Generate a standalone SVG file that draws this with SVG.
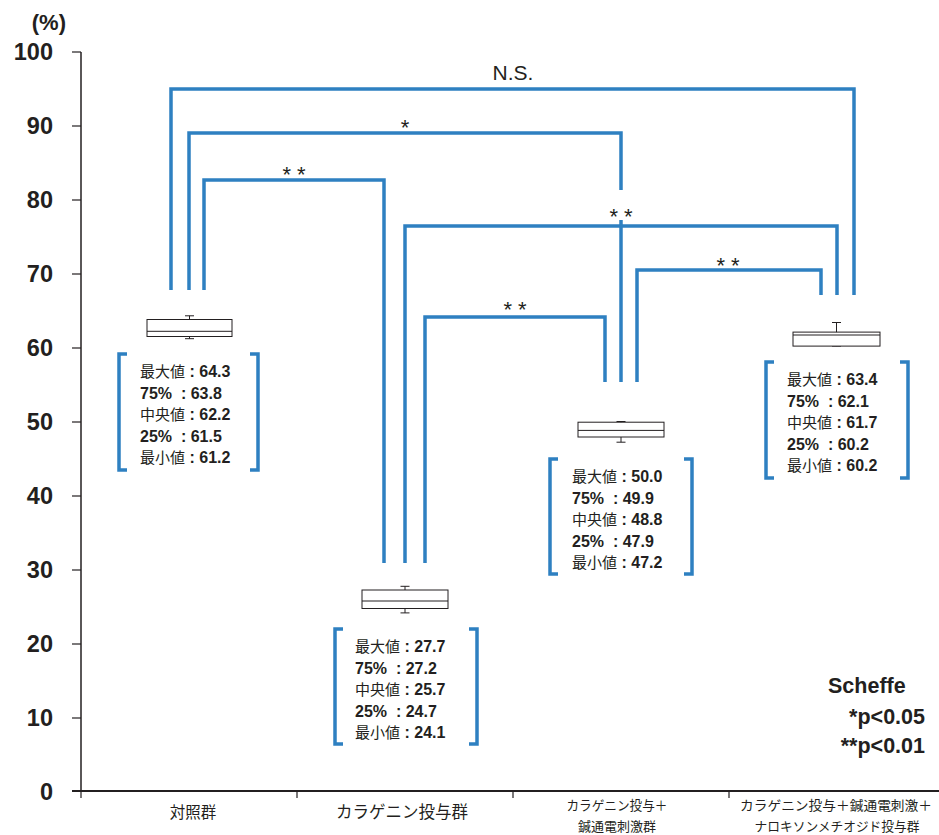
<svg xmlns="http://www.w3.org/2000/svg" width="939" height="835" viewBox="0 0 939 835">
<style>
.ax{stroke:#231f20;stroke-width:1.5;fill:none}
.tk{stroke:#231f20;stroke-width:1.2}
.yl{font-family:"Liberation Sans",Arial,sans-serif;font-weight:bold;font-size:23.5px;fill:#231f20;text-anchor:end}
.sig{stroke:#2e80c1;stroke-width:3.5;fill:none;stroke-linejoin:miter;stroke-linecap:butt}
.brk{stroke:#2e80c1;stroke-width:3.5;fill:none}
.box{stroke:#231f20;stroke-width:1;fill:#fff}
.wh{stroke:#231f20;stroke-width:1;fill:none}
.st{font-family:"Liberation Sans","Noto Sans CJK JP",sans-serif;font-weight:bold;font-size:16px;fill:#231f20}
.cj{font-family:"Noto Sans CJK JP",sans-serif;font-weight:normal;font-size:15px}
.ast{font-family:"Liberation Sans",sans-serif;font-size:22px;fill:#231f20;text-anchor:middle}
.cat{font-family:"Noto Sans CJK JP",sans-serif;fill:#231f20;text-anchor:middle}
.lg{font-family:"Liberation Sans",Arial,sans-serif;font-weight:bold;font-size:21.5px;fill:#231f20}
</style>

<g id="axes">
<text x="66" y="30" class="yl" style="font-size:22px">(%)</text>
<line class="ax" x1="81" y1="52" x2="81" y2="791"/>
<line class="ax" x1="72" y1="791" x2="939" y2="791" style="stroke-width:2"/>
<g class="tk">
<line x1="72" y1="52" x2="81" y2="52"/>
<line x1="72" y1="126" x2="81" y2="126"/>
<line x1="72" y1="200" x2="81" y2="200"/>
<line x1="72" y1="274" x2="81" y2="274"/>
<line x1="72" y1="348" x2="81" y2="348"/>
<line x1="72" y1="422" x2="81" y2="422"/>
<line x1="72" y1="496" x2="81" y2="496"/>
<line x1="72" y1="570" x2="81" y2="570"/>
<line x1="72" y1="644" x2="81" y2="644"/>
<line x1="72" y1="718" x2="81" y2="718"/>
<line x1="81" y1="791" x2="81" y2="798"/>
<line x1="297" y1="791" x2="297" y2="798"/>
<line x1="513" y1="791" x2="513" y2="798"/>
<line x1="729" y1="791" x2="729" y2="798"/>
</g>
<text class="yl" x="53" y="60">100</text>
<text class="yl" x="53" y="134">90</text>
<text class="yl" x="53" y="208">80</text>
<text class="yl" x="53" y="282">70</text>
<text class="yl" x="53" y="356">60</text>
<text class="yl" x="53" y="430">50</text>
<text class="yl" x="53" y="504">40</text>
<text class="yl" x="53" y="578">30</text>
<text class="yl" x="53" y="652">20</text>
<text class="yl" x="53" y="726">10</text>
<text class="yl" x="53" y="800">0</text>
</g>

<g id="connectors">
<polyline class="sig" points="171,290 171,89 854,89 854,295"/>
<polyline class="sig" points="189,290 189,133 621,133 621,190"/>
<polyline class="sig" points="204,290 204,180 384,180 384,563"/>
<polyline class="sig" points="405,563 405,226 837,226 837,295"/>
<line class="sig" x1="621" y1="220" x2="621" y2="382"/>
<polyline class="sig" points="425,563 425,317 605,317 605,382"/>
<polyline class="sig" points="637,382 637,270 821,270 821,295"/>
<text class="ast" x="513" y="80" style="font-size:21px">N.S.</text>
<text class="ast" x="405" y="135">*</text>
<text class="ast" x="294" y="182">* *</text>
<text class="ast" x="621" y="224">* *</text>
<text class="ast" x="515" y="317">* *</text>
<text class="ast" x="728" y="273">* *</text>
</g>

<g id="group1">
<line class="wh" x1="189.5" y1="315.8" x2="189.5" y2="338.7"/>
<line class="wh" x1="185" y1="315.8" x2="194" y2="315.8"/>
<line class="wh" x1="185" y1="338.7" x2="194" y2="338.7"/>
<rect class="box" x="147" y="319.5" width="85" height="17"/>
<line class="wh" x1="147" y1="331.3" x2="232" y2="331.3"/>
<path class="brk" d="M127,354 H119 V470 H127 M250,354 H258 V470 H250"/>
<text class="st" xml:space="preserve" x="140" y="377"><tspan class="cj">最大値</tspan> : 64.3</text>
<text class="st" xml:space="preserve" x="140" y="398.5">75%  : 63.8</text>
<text class="st" xml:space="preserve" x="140" y="420"><tspan class="cj">中央値</tspan> : 62.2</text>
<text class="st" xml:space="preserve" x="140" y="441.5">25%  : 61.5</text>
<text class="st" xml:space="preserve" x="140" y="463"><tspan class="cj">最小値</tspan> : 61.2</text>
<text class="cat" x="193" y="818" style="font-size:15.5px">対照群</text>
</g>

<g id="group2">
<line class="wh" x1="405" y1="586.3" x2="405" y2="612.9"/>
<line class="wh" x1="400.5" y1="586.3" x2="409.5" y2="586.3"/>
<line class="wh" x1="400.5" y1="612.9" x2="409.5" y2="612.9"/>
<rect class="box" x="362" y="590" width="86" height="18.5"/>
<line class="wh" x1="362" y1="601" x2="448" y2="601"/>
<path class="brk" d="M343,629 H335 V744 H343 M469,629 H477 V744 H469"/>
<text class="st" xml:space="preserve" x="355" y="652"><tspan class="cj">最大値</tspan> : 27.7</text>
<text class="st" xml:space="preserve" x="355" y="673.5">75%  : 27.2</text>
<text class="st" xml:space="preserve" x="355" y="695"><tspan class="cj">中央値</tspan> : 25.7</text>
<text class="st" xml:space="preserve" x="355" y="716.5">25%  : 24.7</text>
<text class="st" xml:space="preserve" x="355" y="738"><tspan class="cj">最小値</tspan> : 24.1</text>
<text class="cat" x="402" y="818" style="font-size:16.5px">カラゲニン投与群</text>
</g>

<g id="group3">
<line class="wh" x1="621" y1="421.5" x2="621" y2="442.2"/>
<line class="wh" x1="616.5" y1="421.5" x2="625.5" y2="421.5"/>
<line class="wh" x1="616.5" y1="442.2" x2="625.5" y2="442.2"/>
<rect class="box" x="578" y="422.2" width="86" height="14.8"/>
<line class="wh" x1="578" y1="430.4" x2="664" y2="430.4"/>
<path class="brk" d="M558,459 H550 V574 H558 M684,459 H692 V574 H684"/>
<text class="st" xml:space="preserve" x="572" y="482"><tspan class="cj">最大値</tspan> : 50.0</text>
<text class="st" xml:space="preserve" x="572" y="503.5">75%  : 49.9</text>
<text class="st" xml:space="preserve" x="572" y="525"><tspan class="cj">中央値</tspan> : 48.8</text>
<text class="st" xml:space="preserve" x="572" y="546.5">25%  : 47.9</text>
<text class="st" xml:space="preserve" x="572" y="568"><tspan class="cj">最小値</tspan> : 47.2</text>
<text class="cat" x="617" y="810" style="font-size:13px" textLength="101" lengthAdjust="spacingAndGlyphs">カラゲニン投与＋</text>
<text class="cat" x="617" y="831" style="font-size:13px" textLength="78" lengthAdjust="spacingAndGlyphs">鍼通電刺激群</text>
</g>

<g id="group4">
<line class="wh" x1="836.5" y1="322.5" x2="836.5" y2="346.1"/>
<line class="wh" x1="832" y1="322.5" x2="841" y2="322.5"/>
<line class="wh" x1="832" y1="346.1" x2="841" y2="346.1"/>
<rect class="box" x="793" y="332.1" width="87" height="14"/>
<line class="wh" x1="793" y1="335" x2="880" y2="335"/>
<path class="brk" d="M774,362 H766 V478 H774 M900,362 H908 V478 H900"/>
<text class="st" xml:space="preserve" x="787" y="385"><tspan class="cj">最大値</tspan> : 63.4</text>
<text class="st" xml:space="preserve" x="787" y="406.5">75%  : 62.1</text>
<text class="st" xml:space="preserve" x="787" y="428"><tspan class="cj">中央値</tspan> : 61.7</text>
<text class="st" xml:space="preserve" x="787" y="449.5">25%  : 60.2</text>
<text class="st" xml:space="preserve" x="787" y="471"><tspan class="cj">最小値</tspan> : 60.2</text>
<text class="cat" x="836" y="810" style="font-size:13px" textLength="192" lengthAdjust="spacingAndGlyphs">カラゲニン投与＋鍼通電刺激＋</text>
<text class="cat" x="837" y="831" style="font-size:13px" textLength="165" lengthAdjust="spacingAndGlyphs">ナロキソンメチオジド投与群</text>
</g>

<g id="legend">
<text class="lg" x="828" y="693">Scheffe</text>
<text class="lg" x="925" y="724" text-anchor="end">*p&lt;0.05</text>
<text class="lg" x="925" y="753" text-anchor="end">**p&lt;0.01</text>
</g>
</svg>
